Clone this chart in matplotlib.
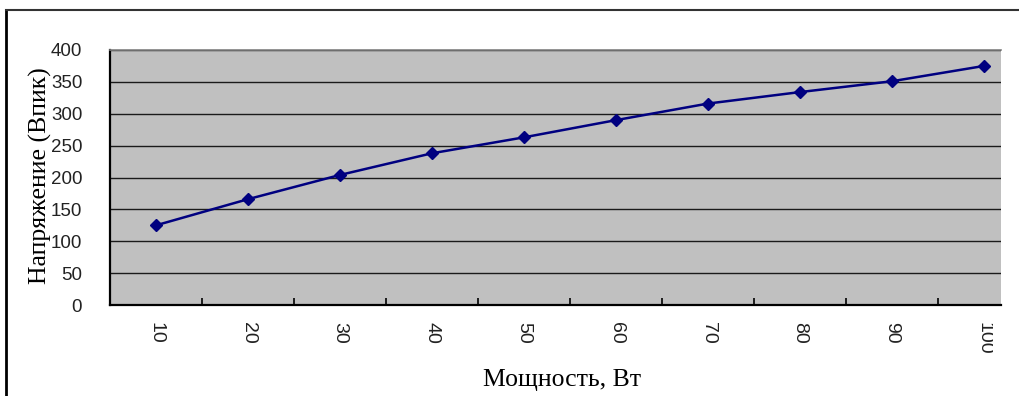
import matplotlib
matplotlib.use('Agg')
import matplotlib.pyplot as plt
from matplotlib.lines import Line2D
from matplotlib.patches import Rectangle

# Power steps and measured peak voltage
power_labels = ['10', '20', '30', '40', '50', '60', '70', '80', '90', '100']
voltage_peak = [125, 166, 204, 238, 263, 290, 316, 334, 351, 375]

W, H = 1019, 396
fig = plt.figure(figsize=(W / 100, H / 100), dpi=100)
fig.patch.set_facecolor('white')

# plot area in pixels: left 110, right 1001, top 50, bottom 305
ax = fig.add_axes([110 / W, 1 - 305 / H, 891 / W, 255 / H])
ax.set_facecolor('#c0c0c0')

x = list(range(1, len(power_labels) + 1))
ax.plot(x, voltage_peak, color='#000080', linewidth=1.8,
        marker='D', markersize=6.5, markerfacecolor='#000080',
        markeredgecolor='#000080', zorder=3)

# category width ~92 px, the right part of the last slot is cut off
ax.set_xlim(0.5, 0.5 + 891 / 92)
ax.set_ylim(0, 400)

ax.set_yticks(range(0, 401, 50))
ax.yaxis.grid(True, color='#1a1a1a', linewidth=1.0)
ax.set_axisbelow(True)

ax.set_xticks(x)
ax.set_xticklabels(power_labels, rotation=-90, fontsize=14,
                   family='Liberation Sans', color='#222222')
ax.set_xticks([i + 0.5 for i in x[:-1]], minor=True)
ax.tick_params(axis='x', which='major', length=0, pad=12)
ax.tick_params(axis='x', which='minor', direction='in', length=5,
               width=1.2, color='black')
ax.tick_params(axis='y', length=0, pad=20, labelsize=13.5, labelcolor='#222222')
for lbl in ax.get_yticklabels():
    lbl.set_family('Liberation Sans')

for side in ['left', 'bottom']:
    ax.spines[side].set_color('black')
    ax.spines[side].set_linewidth(1.6)
ax.spines['top'].set_color('#808080')
ax.spines['top'].set_linewidth(1.2)
ax.spines['right'].set_visible(False)

# last category label is cut by the chart edge
fig.add_artist(Rectangle((992.5 / W, 0), 1, 1 - 310 / H, transform=fig.transFigure,
                         facecolor='white', edgecolor='none', zorder=10))

fig.text(40 / W, 1 - 176 / H, 'Напряжение (Впик)', rotation=90,
         ha='center', va='center', fontsize=18.5, family='Liberation Serif')
fig.text(562 / W, 1 - 380 / H, 'Мощность, Вт', ha='center', va='center',
         fontsize=18.5, family='Liberation Serif')

# chart frame (left and top edges)
fig.add_artist(Line2D([6 / W, 6 / W], [0, 1 - 9.5 / H], transform=fig.transFigure,
                      color='black', linewidth=2))
fig.add_artist(Line2D([6 / W, 1], [1 - 9.5 / H, 1 - 9.5 / H], transform=fig.transFigure,
                      color='#333333', linewidth=1.5))

fig.savefig('out.png', dpi=100)
